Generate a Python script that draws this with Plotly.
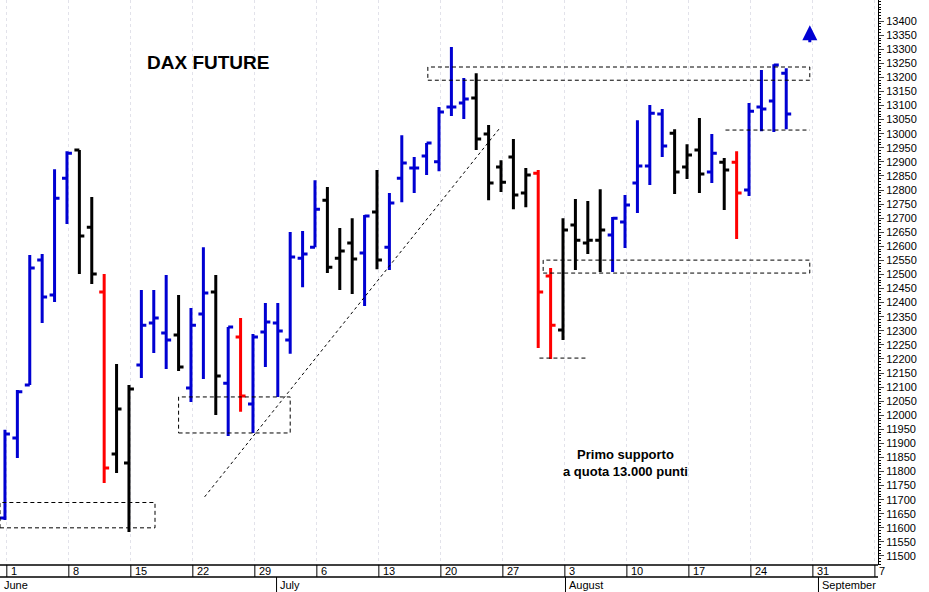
import plotly.graph_objects as go

# trading-day index (0 = 1 June) and OHLC
day = list(range(64))
opens = [11635, 11919, 12107, 12551, 12427, 12842, 12942, 12668, 12438, 11862,
         11830, 12178, 12328, 12292, 12285, 12097, 12360, 12438, 12114, 12278,
         12040, 12296, 12328, 12267, 12558, 12597, 12764, 12558, 12612, 12576,
         12722, 12597, 12842, 12878, 12921, 12900, 13095, 13109, 13127, 12999,
         12882, 12917, 12789, 12860, 12495, 12303, 12676, 12612, 12622, 12640,
         12686, 12825, 12885, 13070, 13002, 12882, 12942, 12864, 12899, 12899,
         12800, 13095, 13116, 13215]
highs = [11948, 12090, 12569, 12573, 12874, 12938, 12942, 12775, 12502, 12182,
         12107, 12445, 12445, 12498, 12427, 12381, 12597, 12498, 12313, 12345,
         12289, 12399, 12399, 12651, 12654, 12835, 12811, 12665, 12700, 12711,
         12871, 12789, 12995, 12917, 12967, 13095, 13308, 13198, 13215, 13031,
         12906, 12981, 12878, 12871, 12523, 12700, 12768, 12761, 12803, 12704,
         12782, 13048, 13102, 13088, 13016, 12963, 13056, 12999, 12914, 12938,
         13109, 13226, 13247, 13233]
lows = [11628, 11848, 12107, 12328, 12402, 12679, 12502, 12466, 11759, 11795,
        11585, 12132, 12221, 12164, 12157, 12047, 12129, 12001, 11926, 12012,
        11937, 12171, 12065, 12218, 12455, 12597, 12505, 12445, 12431, 12388,
        12519, 12516, 12757, 12789, 12853, 12867, 13063, 13052, 12942, 12764,
        12793, 12732, 12739, 12239, 12200, 12267, 12516, 12573, 12509, 12509,
        12594, 12718, 12818, 12917, 12786, 12839, 12789, 12825, 12729, 12626,
        12779, 13009, 13006, 13016]
closes = [11933, 12083, 12523, 12420, 12771, 12931, 12637, 12502, 11813, 12022,
          12093, 12320, 12345, 12267, 12171, 12320, 12434, 12139, 12313, 12068,
          12278, 12331, 12299, 12562, 12573, 12732, 12526, 12583, 12555, 12708,
          12551, 12754, 12896, 12878, 12967, 13077, 13095, 13123, 12981, 12825,
          12828, 12782, 12853, 12438, 12320, 12658, 12622, 12622, 12658, 12700,
          12747, 12885, 13073, 12956, 12864, 12924, 12857, 12931, 12871, 12789,
          13080, 13088, 13244, 13070]
bar_class = list("bbbbbbkkrkkbbbkbbkbrbbbbbbkkkbkbbbbbbbkkkkkrrkkkkbbbbbkkkbkrbbbb")

week_idx = [0, 5, 10, 15, 20, 25, 30, 35, 40, 45, 50, 55, 60, 65, 70]
week_labels = ["1", "8", "15", "22", "29", "6", "13", "20", "27", "3", "10", "17", "24", "31", "7"]
months = ["June", "July", "August", "September"]
month_idx = [-0.35, 21.9, 45.2, 65.6]
price_ticks = list(range(11500, 13401, 50))

COLORS = {"b": "#0000d2", "k": "#000000", "r": "#ff0000"}

fig = go.Figure()
for cls, col in COLORS.items():
    sel = [i for i, c in enumerate(bar_class) if c == cls]
    fig.add_trace(go.Ohlc(
        x=[day[i] for i in sel],
        open=[opens[i] for i in sel], high=[highs[i] for i in sel],
        low=[lows[i] for i in sel], close=[closes[i] for i in sel],
        increasing=dict(line=dict(color=col, width=3)),
        decreasing=dict(line=dict(color=col, width=3)),
        tickwidth=0.4, showlegend=False, hoverinfo="skip"))

dash = dict(color="black", width=1, dash="4px,3px")
shapes = [
    dict(type="rect", x0=-0.4, x1=12.1, y0=11600, y1=11690, line=dash),
    dict(type="rect", x0=14.0, x1=23.0, y0=11937, y1=12065, line=dash),
    dict(type="rect", x0=34.1, x1=64.9, y0=13190, y1=13237, line=dash),
    dict(type="rect", x0=43.4, x1=64.9, y0=12505, y1=12551, line=dash),
    dict(type="line", x0=58.1, x1=64.9, y0=13013, y1=13013, line=dash),
    dict(type="line", x0=43.1, x1=47.0, y0=12203, y1=12203, line=dash),
    dict(type="line", x0=16.1, x1=39.9, y0=11710, y1=13020,
         line=dict(color="black", width=1, dash="3px,3px")),
]

# date axis drawn underneath the plot
r1, r2 = -0.0212, -0.048
for y in (0, r1):
    shapes.append(dict(type="line", xref="paper", yref="paper", x0=0, x1=1, y0=y, y1=y,
                       line=dict(color="black", width=1.5)))
for w in week_idx:
    shapes.append(dict(type="line", yref="paper", x0=w + 0.15, x1=w + 0.15, y0=0, y1=r1,
                       line=dict(color="black", width=1)))
for m in month_idx[1:]:
    shapes.append(dict(type="line", yref="paper", x0=m, x1=m, y0=r1, y1=r2,
                       line=dict(color="black", width=1)))

ann = [
    dict(x=0.237, y=0.89, xref="paper", yref="paper", text="<b>DAX FUTURE</b>",
         xanchor="center", yanchor="middle",
         showarrow=False, font=dict(size=19, color="black")),
    dict(x=50.0, y=11830, text="<b>Primo supporto<br>a quota 13.000 punti</b>",
         xanchor="center", yanchor="middle",
         showarrow=False, font=dict(size=13, color="black")),
    dict(x=64.9, y=13385, ax=64.9, ay=13320, axref="x", ayref="y", text="",
         showarrow=True, arrowhead=2, arrowsize=1, arrowwidth=3, arrowcolor="#0000d2"),
]
for w, lab in zip(week_idx, week_labels):
    ann.append(dict(x=w + 0.3, y=r1 / 2, yref="paper", text=lab, showarrow=False,
                    xanchor="left", yanchor="middle", font=dict(size=11, color="black")))
for m, lab in zip(month_idx, months):
    ann.append(dict(x=m + 0.15, y=(r1 + r2) / 2, yref="paper", text=lab, showarrow=False,
                    xanchor="left", yanchor="middle", font=dict(size=11, color="black")))

fig.update_layout(
    width=929, height=592,
    margin=dict(l=0, r=51, t=0, b=27),
    paper_bgcolor="white", plot_bgcolor="white",
    font=dict(family="Liberation Sans, Arial", color="black"),
    shapes=shapes, annotations=ann,
    xaxis=dict(range=[-0.4, 70.4], rangeslider=dict(visible=False),
               tickvals=[w + 0.15 for w in week_idx], showticklabels=False, ticks="",
               showgrid=True, gridcolor="#e2e2ea", griddash="3px,3px", zeroline=False),
    yaxis=dict(side="right", range=[11468, 13475], tickmode="array",
               tickvals=price_ticks, ticktext=[str(p) for p in price_ticks],
               showgrid=False, zeroline=False, showline=True, linecolor="black",
               ticks="outside", ticklen=5, tickfont=dict(size=11),
               minor=dict(ticks="outside", ticklen=2, dtick=10, tickcolor="black")),
)
fig.write_html("out.html", config={"displayModeBar": False},
               post_script="document.body.style.margin='0';")
